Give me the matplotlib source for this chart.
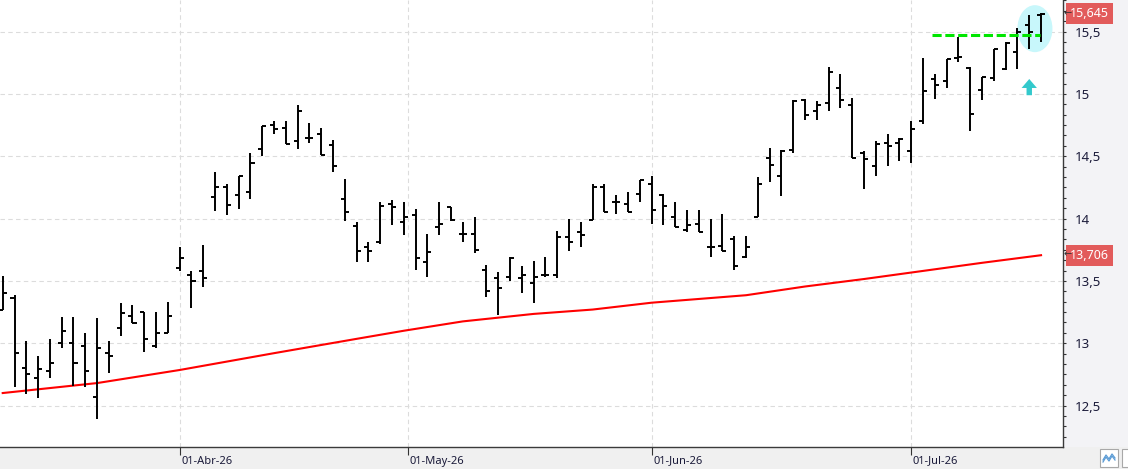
import matplotlib
matplotlib.use('Agg')
import matplotlib.pyplot as plt
import matplotlib.transforms as mtransforms
from matplotlib.patches import Ellipse, Polygon, Rectangle
from matplotlib.lines import Line2D
from matplotlib.ticker import MultipleLocator, FuncFormatter
import numpy as np

# daily OHLC, one bar per trading day (index 0 = first visible bar)
opens = [13.27, 13.36, 12.80, 12.72, 12.78, 13.00, 13.00, 12.98, 12.57, 12.92,
         13.12, 13.22, 13.25, 12.98, 13.08, 13.60, 13.55, 13.58, 14.17, 14.25,
         14.19, 14.21, 14.56, 14.75, 14.73, 14.62, 14.65, 14.68, 14.59, 14.16,
         13.94, 13.77, 13.81, 14.12, 13.97, 14.03, 13.65, 13.93, 14.09, 13.88,
         13.88, 13.59, 13.52, 13.53, 13.52, 13.48, 13.55, 13.55, 13.85, 13.89,
         13.99, 14.25, 14.13, 14.12, 14.20, 14.28, 14.19, 14.01, 13.91, 13.96,
         13.77, 13.78, 13.84, 13.69, 14.01, 14.49, 14.34, 14.55, 14.95, 14.86,
         14.93, 15.05, 14.91, 14.53, 14.42, 14.61, 14.61, 14.54, 14.78, 15.12,
         15.10, 15.29, 15.21, 15.03, 15.13, 15.20, 15.34, 15.55, 15.63]
highs = [13.54, 13.39, 13.02, 12.90, 13.03, 13.21, 13.21, 13.08, 13.20, 13.02,
         13.32, 13.31, 13.25, 13.25, 13.33, 13.77, 13.58, 13.79, 14.37, 14.28,
         14.34, 14.53, 14.74, 14.78, 14.78, 14.91, 14.77, 14.73, 14.63, 14.32,
         13.97, 13.81, 14.13, 14.15, 14.13, 14.08, 13.88, 14.13, 14.09, 13.97,
         14.01, 13.63, 13.57, 13.69, 13.62, 13.66, 13.69, 13.90, 14.00, 13.97,
         14.28, 14.28, 14.19, 14.21, 14.31, 14.34, 14.20, 14.13, 14.07, 14.07,
         14.00, 14.04, 13.86, 13.86, 14.33, 14.57, 14.55, 14.95, 14.96, 14.94,
         15.22, 15.16, 14.97, 14.54, 14.62, 14.68, 14.65, 14.78, 15.29, 15.16,
         15.28, 15.46, 15.22, 15.14, 15.36, 15.42, 15.53, 15.63, 15.65]
lows = [13.27, 12.65, 12.59, 12.56, 12.72, 12.96, 12.66, 12.65, 12.39, 12.76,
        13.06, 13.16, 12.93, 12.96, 13.08, 13.58, 13.28, 13.45, 14.06, 14.03,
        14.08, 14.16, 14.50, 14.68, 14.60, 14.56, 14.61, 14.51, 14.37, 13.98,
        13.65, 13.65, 13.80, 13.95, 13.87, 13.59, 13.53, 13.87, 13.98, 13.81,
        13.72, 13.37, 13.23, 13.50, 13.40, 13.32, 13.53, 13.52, 13.74, 13.77,
        13.99, 14.05, 14.04, 14.05, 14.13, 13.96, 13.95, 13.93, 13.89, 13.89,
        13.69, 13.74, 13.59, 13.68, 14.01, 14.29, 14.18, 14.53, 14.79, 14.79,
        14.86, 14.89, 14.49, 14.24, 14.34, 14.42, 14.46, 14.45, 14.76, 14.96,
        15.05, 15.26, 14.70, 14.95, 15.10, 15.19, 15.20, 15.36, 15.42]
closes = [13.40, 12.92, 12.75, 12.79, 12.84, 13.10, 12.84, 12.78, 12.96, 12.90,
          13.24, 13.16, 13.03, 13.08, 13.22, 13.68, 13.50, 13.52, 14.25, 14.11,
          14.34, 14.45, 14.74, 14.72, 14.60, 14.86, 14.65, 14.51, 14.42, 14.05,
          13.74, 13.74, 14.10, 14.09, 14.01, 13.68, 13.73, 13.96, 13.99, 13.88,
          13.75, 13.42, 13.44, 13.68, 13.55, 13.53, 13.55, 13.85, 13.81, 13.87,
          14.25, 14.05, 14.13, 14.05, 14.31, 14.07, 14.10, 13.93, 13.95, 13.89,
          13.77, 13.74, 13.62, 13.77, 14.28, 14.43, 14.54, 14.94, 14.83, 14.91,
          15.18, 14.95, 14.49, 14.48, 14.60, 14.58, 14.64, 14.72, 15.02, 15.07,
          15.28, 15.30, 14.84, 15.14, 15.36, 15.41, 15.50, 15.50, 15.645]

# moving average read at selected bars
ma_idx = [0, 8, 15, 23, 30, 34, 39, 45, 50, 55, 59, 63, 68, 73, 78, 83, 88]
ma_val = [12.60, 12.68, 12.785, 12.92, 13.035, 13.10, 13.175, 13.235, 13.27, 13.325,
          13.355, 13.385, 13.455, 13.515, 13.58, 13.645, 13.706]

date_pos = [15, 34.33, 55, 77]
date_labels = ['01-Abr-26', '01-May-26', '01-Jun-26', '01-Jul-26']

resistance = 15.47
last_price = 15.645
ma_last = 13.706

plt.rcParams['font.family'] = ['Noto Sans', 'DejaVu Sans']

W, H = 1128, 469
fig = plt.figure(figsize=(W / 100, H / 100), dpi=100, facecolor='#f0f0f0')
# light panel behind the price scale
fig.patches.append(Rectangle((1063 / W, 22 / H), 1 - 1063 / W, 447 / H,
                             transform=fig.transFigure, facecolor='#f3f3f6',
                             edgecolor='none', zorder=-10))
ax = fig.add_axes([0, 22 / H, 1063 / W, 447 / H])
ax.set_facecolor('white')

n = len(opens)
x = np.arange(n)
tick = 0.34
bar_kw = dict(color='black', lw=1.4, zorder=3)
ax.vlines(x, lows, highs, **bar_kw)
ax.hlines(opens, x - tick, x, **bar_kw)
ax.hlines(closes, x, x + tick, **bar_kw)

# moving average
ax.plot(ma_idx, ma_val, color='#ff0000', lw=1.5, zorder=2)

# resistance line, highlight ellipse and arrow
ax.plot([n - 10.2, n - 1.1], [resistance, resistance], color='#00e600',
        lw=2.2, dashes=(3, 1.2), zorder=4)
ax.add_patch(Ellipse((n - 1.52, resistance + 0.054), 2.97, 0.377,
                     facecolor='#c8f7fb', edgecolor='none', zorder=1))
ax_x, tip = n - 2.0, resistance - 0.35
arrow = [(ax_x, tip), (ax_x + 0.65, tip - 0.072), (ax_x + 0.23, tip - 0.072),
         (ax_x + 0.23, tip - 0.13), (ax_x - 0.23, tip - 0.13),
         (ax_x - 0.23, tip - 0.072), (ax_x - 0.65, tip - 0.072)]
ax.add_patch(Polygon(arrow, closed=True, facecolor='#33c9cc',
                     edgecolor='none', zorder=4))

ax.set_xlim(-0.229, 89.86)
ax.set_ylim(12.167, 15.754)

# grid
grid_kw = dict(color='#dcdcdc', lw=0.8, linestyle=(0, (4, 3)))
ax.set_xticks(date_pos)
ax.set_xticklabels([])
ax.yaxis.tick_right()
ax.yaxis.set_major_locator(MultipleLocator(0.5))
ax.yaxis.set_minor_locator(MultipleLocator(1 / 12))
ax.yaxis.set_major_formatter(FuncFormatter(lambda v, p: f'{v:g}'.replace('.', ',')))
ax.grid(True, which='major', **grid_kw)
ax.set_axisbelow(True)

ax.tick_params(axis='x', direction='out', length=6, width=0.8, color='#333333')
ax.tick_params(axis='y', which='both', direction='out', length=2.5, width=0.8,
               color='#333333', labelsize=9.5, labelcolor='#1b1b3a', pad=6)
for s in ['top', 'left']:
    ax.spines[s].set_visible(False)
for s in ['right', 'bottom']:
    ax.spines[s].set_color('#3a3a3a')
    ax.spines[s].set_linewidth(1)

# date labels, left aligned on the gridline
tr = mtransforms.blended_transform_factory(ax.transData, ax.transAxes)
for p, lab in zip(date_pos, date_labels):
    ax.text(p + 0.12, -14 / 447, lab, transform=tr, ha='left', va='center',
            fontsize=8, color='#1b1b3a', clip_on=False)

# value boxes on the price axis
tr2 = mtransforms.blended_transform_factory(ax.transAxes, ax.transData)
for val in [last_price, ma_last]:
    ax.text(1109 / 1063, val, f'{val:.3f}'.replace('.', ','), transform=tr2,
            ha='right', va='center', fontsize=9, color='white', clip_on=False,
            zorder=5, bbox=dict(boxstyle='square,pad=0.32', fc='#e25b5b', ec='none'))
    ax.text(1 + 1 / 1063, val, '←', transform=tr2, ha='left', va='center',
            fontsize=7, color='#333333', clip_on=False, zorder=5)

# small button bottom right
fig.patches.append(Rectangle((1100 / W, 2 / H), 18 / W, 18 / H, transform=fig.transFigure,
                             facecolor='white', edgecolor='#a8a8a8', lw=0.8))
fig.patches.append(Rectangle((1122 / W, 2 / H), 10 / W, 18 / H, transform=fig.transFigure,
                             facecolor='white', edgecolor='#a8a8a8', lw=0.8))
zx = np.array([1103, 1106, 1109, 1112, 1115]) / W
fig.add_artist(Line2D(zx, np.array([9, 14, 10, 15, 11]) / H, color='#5a9bd5', lw=0.9))
fig.add_artist(Line2D(zx, np.array([7, 12, 8, 13, 9]) / H, color='#5a9bd5', lw=0.9))

fig.savefig('out.png', dpi=100)
plt.close()
